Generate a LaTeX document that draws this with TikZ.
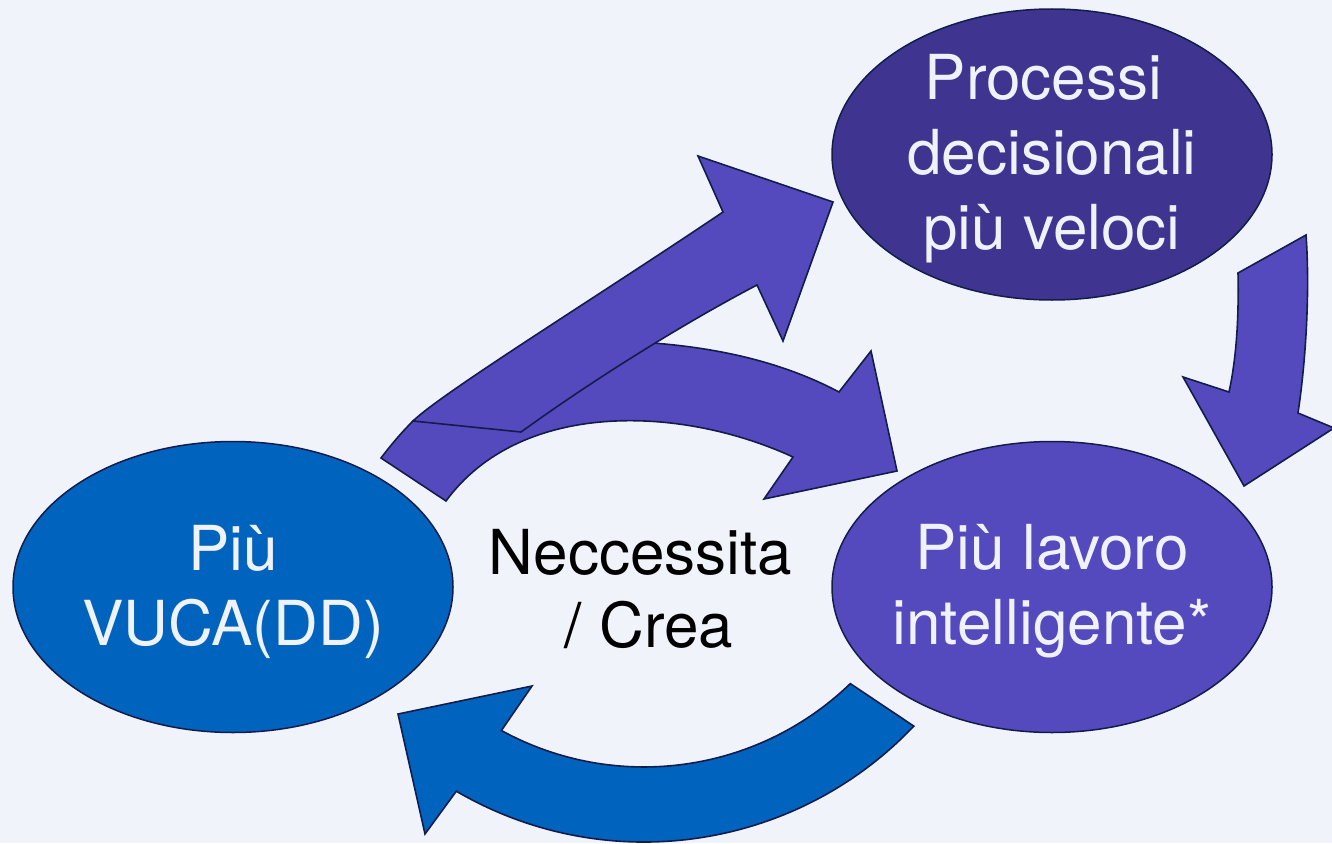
\documentclass[tikz,border=0pt]{standalone}
\usepackage{fontspec}
\setmainfont{TeX Gyre Heros}
\usetikzlibrary{shapes.geometric}
\definecolor{bg}{RGB}{240,243,249}
\definecolor{vblue}{RGB}{0,100,190}
\definecolor{vdark}{RGB}{64,52,145}
\definecolor{vpurple}{RGB}{85,73,190}
\definecolor{vtext}{RGB}{240,242,250}
\definecolor{vline}{RGB}{20,28,75}
\begin{document}
\begin{tikzpicture}[x=1pt,y=-1pt,
  ell/.style={ellipse, draw=vline, line width=1.5pt, minimum width=440pt, minimum height=291pt, inner sep=0pt},
  lbl/.style={align=center, font=\fontsize{62}{75}\selectfont, text=vtext, inner sep=0pt},
  mid/.style={align=center, font=\fontsize{62}{73}\selectfont, text=black, inner sep=0pt},
  blk/.style={draw=vline, line width=1.6pt, line join=miter}]
\useasboundingbox (0,0) rectangle (1332,843);
\fill[bg] (0,0) rectangle (1332,843);
% ellipses
\node[ell, fill=vblue] (vuca) at (233,587) {};
\node[ell, fill=vdark] (proc) at (1052,154.5) {};
\node[ell, fill=vpurple] (lav) at (1052,587) {};
% arrow to "Più lavoro intelligente*"
\draw[blk, fill=vpurple] (381,458) .. controls (391,445) and (400,434) .. (413,421)
  .. controls (475,382) and (565,338) .. (653,343)
  .. controls (730,349) and (790,366) .. (839,392) -- (871,351) -- (897,471) -- (764,499) -- (793,457)
  .. controls (680,405) and (520,400) .. (446,501) -- cycle;
% arrow to "Processi decisionali più veloci"
\draw[blk, fill=vpurple] (413,421) .. controls (443,392) and (600,295) .. (723,212) -- (698,156) -- (833,202)
  -- (783,341) -- (757,285) .. controls (690,320) and (600,375) .. (521,432) -- cycle;
% arrow down on the right
\draw[blk, fill=vpurple] (1306,235) -- (1238,273) .. controls (1239,320) and (1236,360) .. (1229,392)
  -- (1183,377) -- (1244,486) -- (1334,428) -- (1298,413) .. controls (1306,360) and (1310,290) .. (1306,235) -- cycle;
% arrow back to "Più VUCA(DD)"
\draw[blk, fill=vblue] (850.3,683.6) .. controls (756.8,773.9) and (615.4,792.9) .. (501.4,730.5)
  -- (532,686) -- (398,714) -- (425,834) -- (456.3,791.2)
  .. controls (605.4,878.3) and (794.9,851.4) .. (913.8,726.1) -- cycle;
% labels
\node[lbl] (vucaT) at (233,591.5) {Più\\VUCA(DD)};
\node[lbl] (procT) at (1052,158.5) {Processi\hspace*{.278em}\\decisionali\hspace*{.278em}\\più veloci};
\node[lbl] (lavT) at (1052,591.5) {Più lavoro\\intelligente*};
\node[mid] (midT) at (649,589.5) {Neccessita\hspace*{.278em}\\/ Crea};
\end{tikzpicture}
\end{document}
